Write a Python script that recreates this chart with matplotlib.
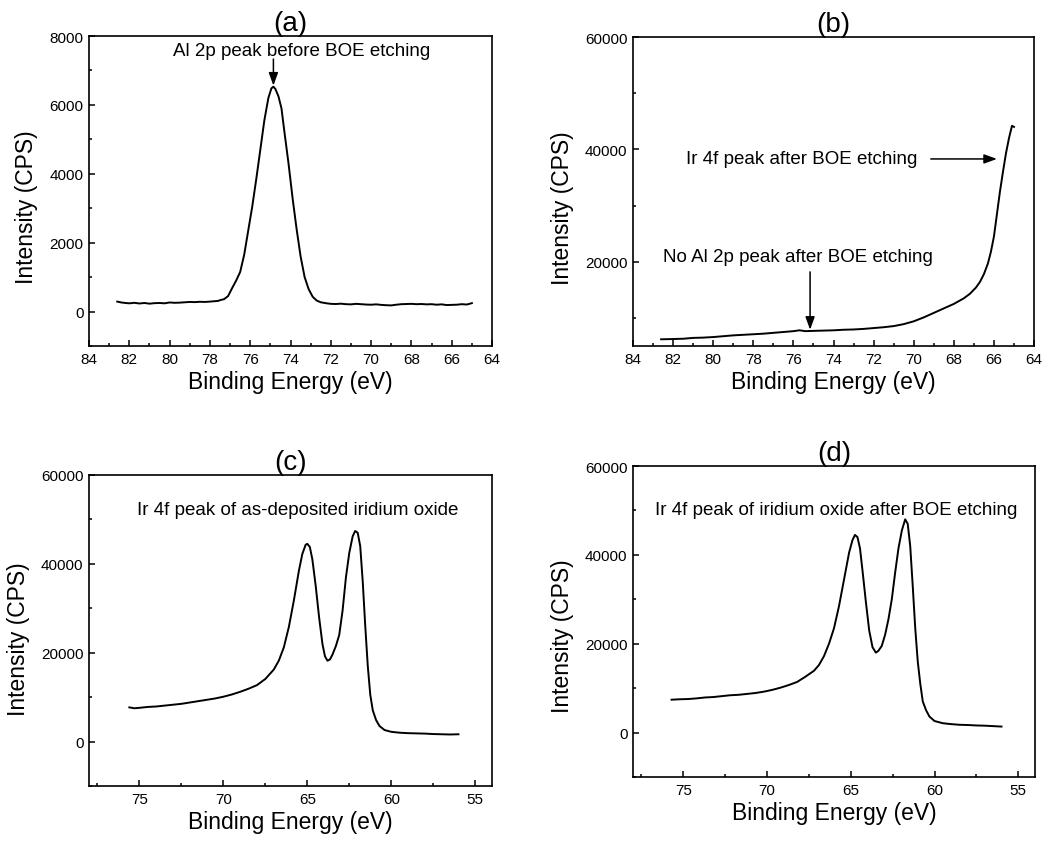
import numpy as np
import matplotlib
matplotlib.use("Agg")
from matplotlib import pyplot as plt
from matplotlib.ticker import MultipleLocator

plt.rcParams['font.family'] = ['Liberation Sans', 'DejaVu Sans']

# (a) Al 2p before BOE etching
be_a = [82.6, 82.4, 82.2, 82.0, 81.75, 81.5, 81.25, 81.0, 80.75, 80.5, 80.25, 80.0, 79.75, 79.5,
        79.25, 79.0, 78.75, 78.5, 78.25, 78.0, 77.8, 77.6, 77.45, 77.3, 77.1, 76.9, 76.7, 76.5,
        76.3, 76.1, 75.9, 75.7, 75.5, 75.3, 75.1, 74.95, 74.85, 74.75, 74.6, 74.45, 74.3, 74.1,
        73.9, 73.7, 73.5, 73.3, 73.1, 72.9, 72.7, 72.5, 72.2, 72.0, 71.75, 71.5, 71.25, 71.0,
        70.75, 70.5, 70.25, 70.0, 69.75, 69.5, 69.25, 69.0, 68.75, 68.5, 68.25, 68.0, 67.75,
        67.5, 67.25, 67.0, 66.75, 66.5, 66.25, 66.0, 65.75, 65.5, 65.25, 65.0]
cps_a = [290, 265, 250, 240, 255, 235, 250, 230, 245, 250, 240, 265, 255, 260,
         270, 280, 275, 285, 280, 290, 300, 310, 340, 360, 450, 680, 900, 1150,
         1650, 2350, 3050, 3850, 4700, 5550, 6200, 6480, 6530, 6460, 6250, 5900, 5200, 4300,
         3300, 2400, 1600, 1000, 650, 430, 320, 270, 240, 225, 220, 230, 215, 210,
         225, 215, 205, 200, 210, 195, 185, 180, 200, 215, 220, 225, 215,
         220, 210, 215, 200, 210, 190, 195, 200, 215, 205, 245]

# (b) after BOE etching, wide scan
be_b = [82.6, 82.0, 81.5, 81.0, 80.5, 80.0, 79.5, 79.0, 78.5, 78.0, 77.5, 77.0, 76.5, 76.0,
        75.7, 75.4, 75.0, 74.5, 74.0, 73.5, 73.0, 72.5, 72.0, 71.5, 71.0, 70.5, 70.0, 69.5,
        69.0, 68.5, 68.0, 67.5, 67.2, 66.9, 66.7, 66.5, 66.3, 66.15, 66.0, 65.85, 65.7, 65.55,
        65.4, 65.25, 65.1, 65.0]
cps_b = [6200, 6250, 6300, 6450, 6500, 6600, 6750, 6900, 7000, 7100, 7200, 7350, 7500, 7650,
         7800, 7650, 7700, 7750, 7800, 7900, 7950, 8050, 8200, 8350, 8550, 8900, 9400, 10100,
         10900, 11700, 12500, 13500, 14300, 15400, 16400, 17800, 19700, 21800, 24500, 28500,
         32500, 36000, 39300, 42000, 44200, 44000]

# (c) Ir 4f of as-deposited iridium oxide
be_c = [75.6, 75.3, 75.0, 74.5, 74.0, 73.5, 73.0, 72.5, 72.0, 71.5, 71.0, 70.5, 70.0, 69.5,
        69.0, 68.5, 68.0, 67.5, 67.0, 66.7, 66.4, 66.1, 65.8, 65.5, 65.3, 65.1, 65.0, 64.85,
        64.7, 64.5, 64.3, 64.1, 63.95, 63.8, 63.65, 63.5, 63.3, 63.1, 62.9, 62.7, 62.5, 62.3,
        62.15, 62.0, 61.85, 61.7, 61.55, 61.4, 61.25, 61.1, 60.9, 60.7, 60.4, 60.0, 59.5, 59.0,
        58.5, 58.0, 57.5, 57.0, 56.5, 56.0]
cps_c = [7700, 7500, 7600, 7800, 7900, 8100, 8300, 8500, 8800, 9100, 9400, 9700, 10100, 10600,
         11200, 11900, 12700, 14100, 16200, 18200, 21200, 25800, 31800, 38500, 42200, 44300, 44500, 43800,
         41000, 35000, 28000, 22000, 19200, 18200, 18500, 19600, 21500, 24000, 29500, 37000, 42500, 46200,
         47400, 47000, 44000, 36000, 26000, 17000, 10500, 7000, 4800, 3500, 2600, 2200, 2000, 1900,
         1850, 1800, 1700, 1650, 1600, 1650]

# (d) Ir 4f of iridium oxide after BOE etching
be_d = [75.7, 75.2, 74.7, 74.2, 73.7, 73.2, 72.7, 72.2, 71.7, 71.2, 70.7, 70.2, 69.7, 69.2,
        68.7, 68.2, 67.7, 67.2, 66.9, 66.6, 66.3, 66.0, 65.7, 65.4, 65.1, 64.9, 64.75, 64.6,
        64.45, 64.3, 64.1, 63.9, 63.7, 63.5, 63.35, 63.15, 62.95, 62.75, 62.55, 62.35, 62.15,
        61.95, 61.75, 61.6, 61.45, 61.3, 61.15, 61.0, 60.85, 60.7, 60.5, 60.3, 60.0, 59.5, 59.0,
        58.5, 58.0, 57.5, 57.0, 56.5, 56.0]
cps_d = [7400, 7500, 7550, 7700, 7900, 8000, 8200, 8400, 8500, 8700, 8900, 9200, 9600, 10100,
         10700, 11400, 12600, 13900, 15200, 17200, 20000, 23500, 28500, 34500, 40500, 43300, 44500, 44000,
         41500, 36500, 29500, 23000, 19200, 18000, 18400, 19500, 22000, 25500, 30000, 36000, 41500,
         45500, 48000, 47000, 42000, 33000, 23500, 16000, 11000, 7000, 5000, 3600, 2600, 2100, 1900,
         1750, 1700, 1600, 1550, 1450, 1350]

fig = plt.figure(figsize=(10.5, 8.45), dpi=100)
ax_a = fig.add_axes([0.0848, 0.5893, 0.3838, 0.3669])
ax_b = fig.add_axes([0.6029, 0.5893, 0.3819, 0.3657])
ax_c = fig.add_axes([0.0848, 0.0686, 0.3838, 0.3681])
ax_d = fig.add_axes([0.6029, 0.0793, 0.3828, 0.3680])

arrow = dict(arrowstyle='-|>,head_length=0.55,head_width=0.2', color='black', lw=1.1,
             mutation_scale=14, shrinkA=0, shrinkB=0)

def style(ax, title, xlim, ylim, xmaj, xmin, ymaj, ymin, ylab_xy):
    ax.set_xlim(*xlim)
    ax.set_ylim(*ylim)
    ax.xaxis.set_major_locator(MultipleLocator(xmaj))
    ax.xaxis.set_minor_locator(MultipleLocator(xmin))
    ax.yaxis.set_major_locator(MultipleLocator(ymaj))
    ax.yaxis.set_minor_locator(MultipleLocator(ymin))
    ax.tick_params(which='both', direction='in', width=1.1, labelsize=11, pad=4)
    ax.tick_params(which='major', length=4)
    ax.tick_params(which='minor', length=2.5)
    for s in ax.spines.values():
        s.set_linewidth(1.2)
    ax.set_title(title, fontsize=20, pad=1)
    ax.set_xlabel('Binding Energy (eV)', fontsize=16.5, labelpad=3)
    ax.set_ylabel('Intensity (CPS)', fontsize=16.5)
    ax.yaxis.set_label_coords(*ylab_xy)

lw = 1.4
ax_a.plot(be_a, cps_a, color='black', lw=lw)
style(ax_a, '(a)', (84, 64), (-1000, 8000), 2, 1, 2000, 1000, (-0.127, 0.45))
ax_a.annotate('', xy=(74.85, 6560), xytext=(74.85, 7330), arrowprops=arrow)
ax_a.text(73.46, 7585, 'Al 2p peak before BOE etching', fontsize=13.5, ha='center', va='center')

ax_b.plot(be_b, cps_b, color='black', lw=lw)
style(ax_b, '(b)', (84, 64), (5000, 60000), 2, 1, 20000, 10000, (-0.147, 0.45))
ax_b.text(75.6, 38300, 'Ir 4f peak after BOE etching', fontsize=13.5, ha='center', va='center')
ax_b.annotate('', xy=(65.85, 38300), xytext=(69.15, 38300), arrowprops=arrow)
ax_b.text(75.8, 21000, 'No Al 2p peak after BOE etching', fontsize=13.5, ha='center', va='center')
ax_b.annotate('', xy=(75.17, 7900), xytext=(75.17, 18200), arrowprops=arrow)

ax_c.plot(be_c, cps_c, color='black', lw=lw)
style(ax_c, '(c)', (78, 54), (-10000, 60000), 5, 2.5, 20000, 10000, (-0.146, 0.475))
ax_c.text(65.58, 52300, 'Ir 4f peak of as-deposited iridium oxide', fontsize=13.5, ha='center', va='center')

ax_d.plot(be_d, cps_d, color='black', lw=lw)
style(ax_d, '(d)', (78, 54), (-10000, 60000), 5, 2.5, 20000, 10000, (-0.147, 0.455))
ax_d.text(65.88, 50250, 'Ir 4f peak of iridium oxide after BOE etching', fontsize=13.5, ha='center', va='center')

fig.savefig('out.png', dpi=100)
plt.close(fig)
